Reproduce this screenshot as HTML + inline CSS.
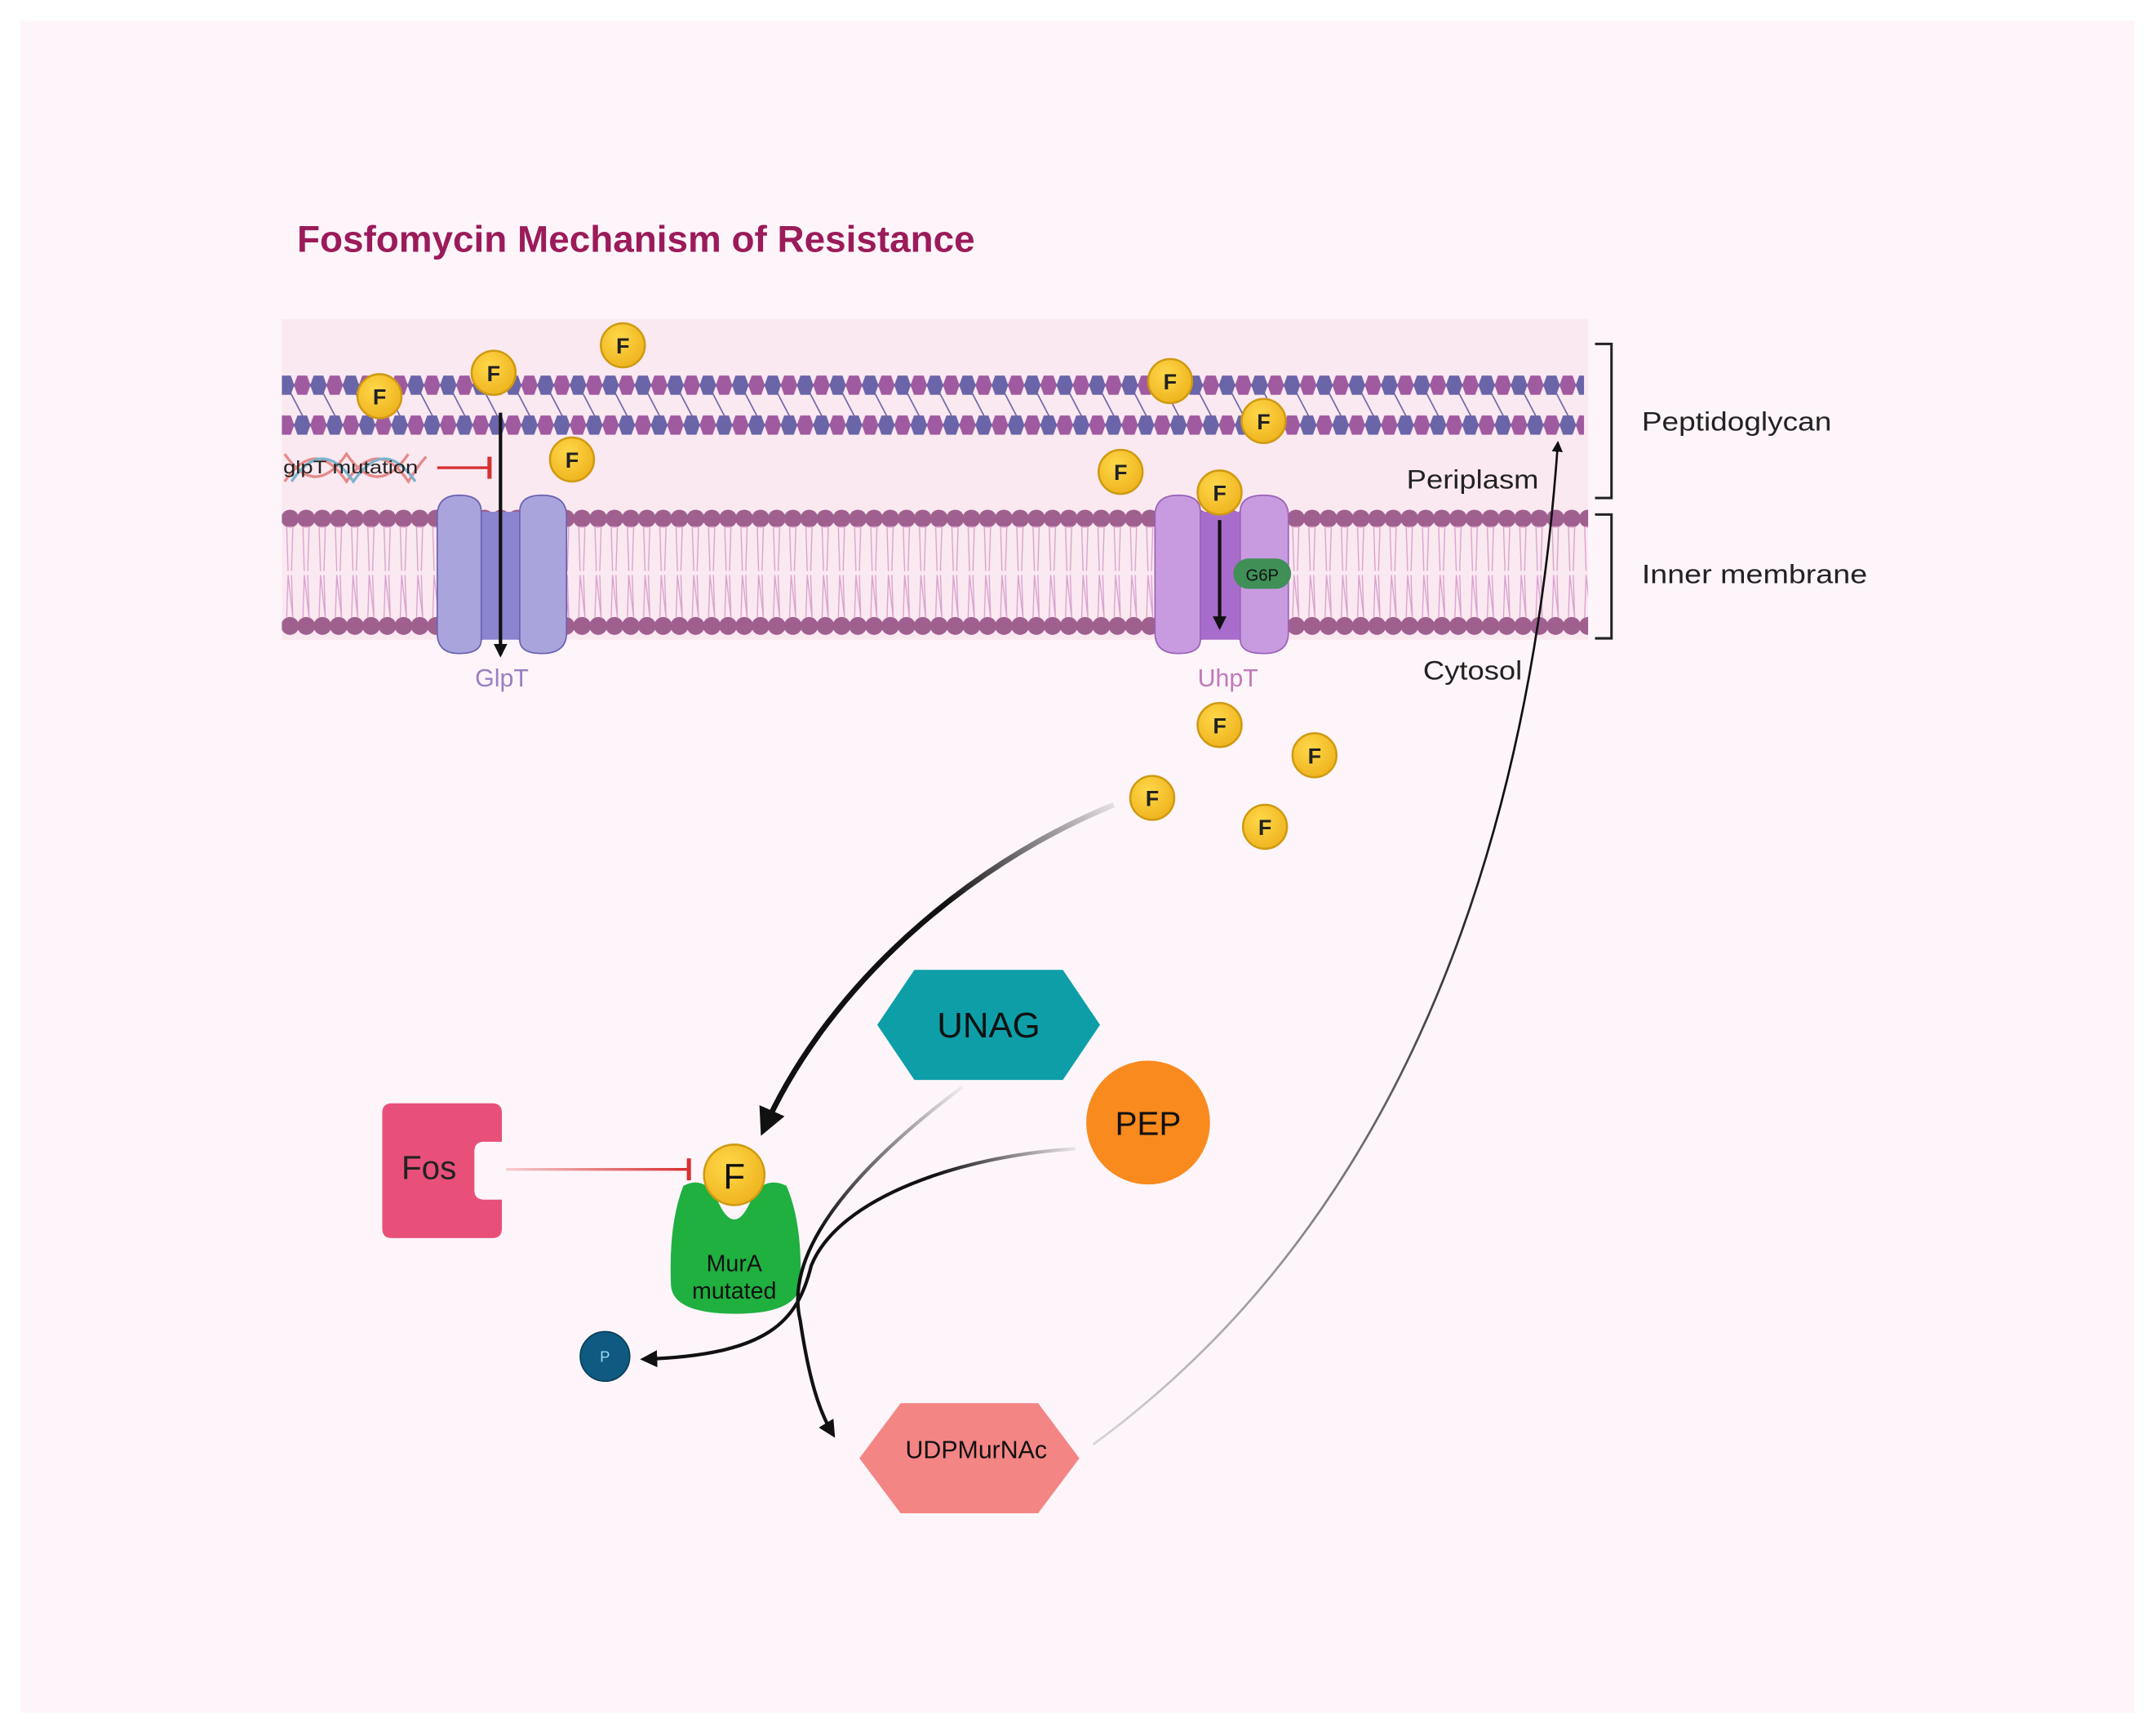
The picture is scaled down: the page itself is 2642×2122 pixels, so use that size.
<!DOCTYPE html>
<html><head><meta charset="utf-8"><style>
html,body{margin:0;padding:0;background:#fff}
svg{display:block}
text{font-family:"Liberation Sans","DejaVu Sans",sans-serif}
</style></head><body>
<svg width="2642" height="2122" viewBox="0 0 1568 1259" preserveAspectRatio="none" xmlns="http://www.w3.org/2000/svg">
<defs>
<pattern id="pg" x="208" y="0" width="23.6" height="1259" patternUnits="userSpaceOnUse">
<line x1="2" y1="283" x2="14" y2="306" stroke="#6a64a8" stroke-width="1"/>
</pattern>
<pattern id="b1" x="208" y="270" width="23.6" height="20" patternUnits="userSpaceOnUse">
<polygon points="4.5,3 11.5,3 14,10 11.5,17 4.5,17 2,10" fill="#6a64a8" transform="translate(-8,0)"/>
<polygon points="4.5,3 11.5,3 14,10 11.5,17 4.5,17 2,10" fill="#6a64a8" transform="translate(15.6,0)"/>
<polygon points="4.5,3 11.5,3 14,10 11.5,17 4.5,17 2,10" fill="#a05aa0" transform="translate(3.8,0)"/>
</pattern>
<pattern id="b2" x="208" y="299" width="23.6" height="20" patternUnits="userSpaceOnUse">
<polygon points="4.5,3 11.5,3 14,10 11.5,17 4.5,17 2,10" fill="#a05aa0" transform="translate(-8,0)"/>
<polygon points="4.5,3 11.5,3 14,10 11.5,17 4.5,17 2,10" fill="#a05aa0" transform="translate(15.6,0)"/>
<polygon points="4.5,3 11.5,3 14,10 11.5,17 4.5,17 2,10" fill="#6a64a8" transform="translate(3.8,0)"/>
</pattern>
<pattern id="heads" x="205" y="0" width="11.8" height="1259" patternUnits="userSpaceOnUse">
<circle cx="5.9" cy="377" r="6.5" fill="#a0608f"/>
<circle cx="5.9" cy="455" r="6.5" fill="#a0608f"/>
<polyline points="3.5,383 4.5,415 3.5,383 8,383 7,415" fill="none" stroke="#d9a0cc" stroke-width="0.8"/>
<polyline points="3.5,449 4.5,418 8,449 7,418" fill="none" stroke="#d9a0cc" stroke-width="0.8"/>
</pattern>
<radialGradient id="fg" cx="0.4" cy="0.35" r="0.7"><stop offset="0" stop-color="#ffd84a"/><stop offset="1" stop-color="#eeb21c"/></radialGradient>
<marker id="ah" viewBox="0 0 10 10" refX="8" refY="5" markerWidth="5" markerHeight="5" orient="auto"><path d="M0,0 L10,5 L0,10 z" fill="#111"/></marker>
<marker id="ah2" viewBox="0 0 10 10" refX="8" refY="5" markerWidth="4" markerHeight="4" orient="auto"><path d="M0,0 L10,5 L0,10 z" fill="#111"/></marker>
<linearGradient id="fade1" x1="810" y1="585" x2="560" y2="820" gradientUnits="userSpaceOnUse"><stop offset="0" stop-color="#111" stop-opacity="0.1"/><stop offset="0.4" stop-color="#111"/></linearGradient>
<linearGradient id="fade2" x1="700" y1="790" x2="600" y2="900" gradientUnits="userSpaceOnUse"><stop offset="0" stop-color="#111" stop-opacity="0.05"/><stop offset="1" stop-color="#111"/></linearGradient>
<linearGradient id="fade3" x1="785" y1="835" x2="680" y2="850" gradientUnits="userSpaceOnUse"><stop offset="0" stop-color="#111" stop-opacity="0.05"/><stop offset="1" stop-color="#111"/></linearGradient>
<linearGradient id="fade4" x1="795" y1="1050" x2="1100" y2="600" gradientUnits="userSpaceOnUse"><stop offset="0" stop-color="#111" stop-opacity="0.15"/><stop offset="1" stop-color="#111"/></linearGradient>
<linearGradient id="fade5" x1="368" y1="850" x2="500" y2="850" gradientUnits="userSpaceOnUse"><stop offset="0" stop-color="#d83030" stop-opacity="0.2"/><stop offset="1" stop-color="#d83030"/></linearGradient>
<g id="F"><circle r="16" fill="url(#fg)" stroke="#cf9a12" stroke-width="1.5"/><text y="6" text-anchor="middle" font-size="16" font-weight="bold" fill="#222">F</text></g>
</defs>
<rect width="1568" height="1259" fill="#fff"/>
<rect x="15" y="15" width="1537" height="1230" fill="#fdf5fa"/>
<text x="216" y="183" font-size="27" font-weight="bold" fill="#9b1b5a" textLength="493" lengthAdjust="spacingAndGlyphs">Fosfomycin Mechanism of Resistance</text>
<rect x="205" y="232" width="950" height="233" fill="#fbe9f1"/>
<rect x="208" y="280" width="944" height="30" fill="url(#pg)"/>
<line x1="208" y1="280" x2="1152" y2="280" stroke="#6a64a8" stroke-width="2"/>
<line x1="208" y1="309" x2="1152" y2="309" stroke="#6a64a8" stroke-width="2"/>
<rect x="205" y="270" width="947" height="20" fill="url(#b1)"/>
<rect x="205" y="299" width="947" height="20" fill="url(#b2)"/>
<rect x="205" y="368" width="950" height="96" fill="url(#heads)"/>
<g>
<path d="M318,375 Q318,360 334,360 Q350,360 350,372 Q364,378 378,372 Q378,360 394,360 Q412,360 412,375 L412,460 Q412,475 394,475 Q378,475 378,465 Q364,458 350,465 Q350,475 334,475 Q318,475 318,460 Z" fill="#a9a4dc" stroke="#6a62b0" stroke-width="1"/>
<rect x="350" y="372" width="28" height="93" fill="#8b84cf"/>
<line x1="350" y1="372" x2="350" y2="465" stroke="#6a62b0"/><line x1="378" y1="372" x2="378" y2="465" stroke="#6a62b0"/>
</g>
<line x1="364" y1="300" x2="364" y2="476" stroke="#111" stroke-width="2.5" marker-end="url(#ah2)"/>
<g>
<path d="M840,375 Q840,360 857,360 Q873,360 873,372 Q887,378 902,372 Q902,360 919,360 Q937,360 937,375 L937,460 Q937,475 919,475 Q902,475 902,465 Q887,458 873,465 Q873,475 857,475 Q840,475 840,460 Z" fill="#c89be0" stroke="#9a62b8" stroke-width="1"/>
<rect x="873" y="372" width="29" height="93" fill="#a86ccc"/>
<line x1="873" y1="372" x2="873" y2="465" stroke="#9a62b8"/><line x1="902" y1="372" x2="902" y2="465" stroke="#9a62b8"/>
</g>
<line x1="887" y1="378" x2="887" y2="456" stroke="#111" stroke-width="2.5" marker-end="url(#ah2)"/>
<rect x="897" y="406" width="42" height="22" rx="11" fill="#3f8f57"/>
<text x="918" y="422" text-anchor="middle" font-size="12" fill="#111">G6P</text>
<path d="M207,330 C222,352 237,352 252,330 C267,352 282,352 297,330 M207,350 C222,328 237,328 252,350 C267,328 282,328 297,350 C302,342 306,336 310,332" fill="none" stroke="#e58a8a" stroke-width="2"/>
<path d="M212,350 C227,328 242,328 257,350 C272,328 287,328 302,350" fill="none" stroke="#7ab3cc" stroke-width="2"/>
<text x="206" y="344" font-size="13" fill="#222" textLength="98" lengthAdjust="spacingAndGlyphs">glpT mutation</text>
<line x1="318" y1="340" x2="355" y2="340" stroke="#d83030" stroke-width="2"/>
<line x1="356" y1="332" x2="356" y2="348" stroke="#d83030" stroke-width="3"/>
<text x="365" y="499" text-anchor="middle" font-size="18" fill="#9a7ec0">GlpT</text>
<text x="893" y="499" text-anchor="middle" font-size="18" fill="#c07ab8">UhpT</text>
<text x="1023" y="355" font-size="19" fill="#222" textLength="96" lengthAdjust="spacingAndGlyphs">Periplasm</text>
<text x="1035" y="494" font-size="19" fill="#222" textLength="72" lengthAdjust="spacingAndGlyphs">Cytosol</text>
<text x="1194" y="313" font-size="19" fill="#222" textLength="138" lengthAdjust="spacingAndGlyphs">Peptidoglycan</text>
<text x="1194" y="424" font-size="19" fill="#222" textLength="164" lengthAdjust="spacingAndGlyphs">Inner membrane</text>
<path d="M1160,250 H1172 V362 H1160 M1160,374 H1172 V464 H1160" fill="none" stroke="#222" stroke-width="1.8"/>
<use href="#F" x="276" y="288"/><use href="#F" x="359" y="271"/><use href="#F" x="453" y="251"/><use href="#F" x="416" y="334"/>
<use href="#F" x="851" y="277"/><use href="#F" x="919" y="306"/><use href="#F" x="815" y="343"/><use href="#F" x="887" y="358"/>
<use href="#F" x="887" y="527"/><use href="#F" x="956" y="549"/><use href="#F" x="838" y="580"/><use href="#F" x="920" y="601"/>
<path d="M810,585 C700,630 600,720 555,822" fill="none" stroke="url(#fade1)" stroke-width="4" marker-end="url(#ah)"/>
<path d="M795,1050 C1000,900 1110,650 1133,322" fill="none" stroke="url(#fade4)" stroke-width="1.6" marker-end="url(#ah)"/>
<path d="M285,802 H358 Q365,802 365,809 V830 H352 Q345,830 345,837 V865 Q345,872 352,872 H365 V893 Q365,900 358,900 H285 Q278,900 278,893 V809 Q278,802 285,802 Z" fill="#e8507a"/>
<text x="312" y="857" text-anchor="middle" font-size="24" fill="#222">Fos</text>
<line x1="368" y1="850" x2="500" y2="850" stroke="url(#fade5)" stroke-width="2"/>
<line x1="501" y1="842" x2="501" y2="858" stroke="#d83030" stroke-width="3"/>
<path d="M497,862 Q510,855 520,868 Q534,905 548,868 Q558,855 572,862 Q584,890 582,935 Q578,955 535,955 Q490,955 488,935 Q486,890 497,862 Z" fill="#1fb040"/>
<text x="534" y="924" text-anchor="middle" font-size="17" fill="#111">MurA</text>
<text x="534" y="944" text-anchor="middle" font-size="17" fill="#111">mutated</text>
<circle cx="534" cy="854" r="22" fill="url(#fg)" stroke="#cf9a12" stroke-width="1.5"/>
<text x="534" y="864" text-anchor="middle" font-size="26" fill="#111">F</text>
<polygon points="638,745 665,705 773,705 800,745 773,785 665,785" fill="#0e9ea8"/>
<text x="719" y="754" text-anchor="middle" font-size="26" fill="#111">UNAG</text>
<circle cx="835" cy="816" r="45" fill="#f98a1e"/>
<text x="835" y="825" text-anchor="middle" font-size="24" fill="#111">PEP</text>
<path d="M700,790 C620,850 570,910 582,960 C588,1000 595,1025 606,1043" fill="none" stroke="url(#fade2)" stroke-width="2.5" marker-end="url(#ah)"/>
<path d="M782,835 C700,840 610,870 590,920 C580,960 560,985 468,988" fill="none" stroke="url(#fade3)" stroke-width="2.5" marker-end="url(#ah)"/>
<circle cx="440" cy="986" r="18" fill="#0f5a80" stroke="#0a3e5a"/>
<text x="440" y="990" text-anchor="middle" font-size="11" fill="#9fd8f5">P</text>
<polygon points="625,1060 655,1020 755,1020 785,1060 755,1100 655,1100" fill="#f48585"/>
<text x="710" y="1060" text-anchor="middle" font-size="18" fill="#111">UDPMurNAc</text>
</svg>
</body></html>
